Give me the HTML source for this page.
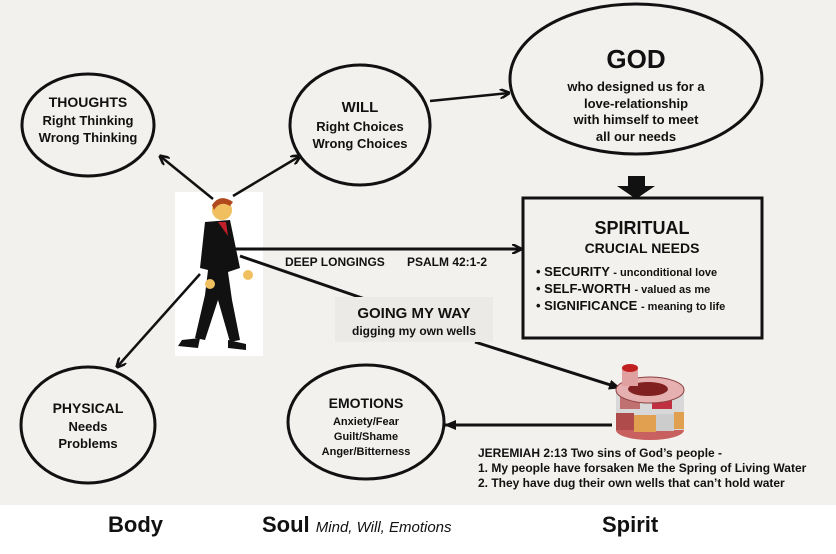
<!DOCTYPE html>
<html><head><style>
html,body{margin:0;padding:0;background:#fff}
svg{display:block}
text{font-family:"Liberation Sans",Arial,sans-serif;font-weight:bold;fill:#111}
</style></head><body>
<svg width="836" height="554" viewBox="0 0 836 554" xmlns="http://www.w3.org/2000/svg">
<defs>
<marker id="a" markerWidth="10" markerHeight="10" refX="9" refY="5" orient="auto" markerUnits="userSpaceOnUse">
<path d="M0,0 L10,5 L0,10" fill="none" stroke="#111" stroke-width="2.5"/>
</marker>
<marker id="b" markerWidth="12" markerHeight="10" refX="11" refY="5" orient="auto" markerUnits="userSpaceOnUse">
<path d="M0,0 L12,5 L0,10 z" fill="#111"/>
</marker>
</defs>
<rect x="0" y="0" width="836" height="505" fill="#f3f1ed"/>
<rect x="0" y="505" width="836" height="49" fill="#fff"/>

<ellipse cx="88" cy="125" rx="66" ry="51" fill="#f3f1ed" stroke="#111" stroke-width="3"/>
<text x="88" y="107" font-size="14" text-anchor="middle">THOUGHTS</text>
<text x="88" y="125" font-size="13" text-anchor="middle">Right Thinking</text>
<text x="88" y="142" font-size="13" text-anchor="middle">Wrong Thinking</text>

<ellipse cx="360" cy="125" rx="70" ry="60" fill="#f3f1ed" stroke="#111" stroke-width="3"/>
<text x="360" y="112" font-size="15" text-anchor="middle">WILL</text>
<text x="360" y="131" font-size="13" text-anchor="middle">Right Choices</text>
<text x="360" y="148" font-size="13" text-anchor="middle">Wrong Choices</text>

<ellipse cx="636" cy="79" rx="126" ry="75" fill="#f3f1ed" stroke="#111" stroke-width="3"/>
<text x="636" y="68" font-size="26" text-anchor="middle">GOD</text>
<text x="636" y="91" font-size="13" text-anchor="middle">who designed us for a</text>
<text x="636" y="108" font-size="13" text-anchor="middle">love-relationship</text>
<text x="636" y="124" font-size="13" text-anchor="middle">with himself to meet</text>
<text x="636" y="141" font-size="13" text-anchor="middle">all our needs</text>

<path d="M628,176 H645 V186 H655 L636,199 L617,186 H628 z" fill="#111"/>

<rect x="523" y="198" width="239" height="140" fill="#f3f1ed" stroke="#111" stroke-width="3"/>
<text x="642" y="234" font-size="18" text-anchor="middle">SPIRITUAL</text>
<text x="642" y="253" font-size="14" text-anchor="middle">CRUCIAL NEEDS</text>
<text x="536" y="276" font-size="13">• SECURITY <tspan font-size="11">- unconditional love</tspan></text>
<text x="536" y="293" font-size="13">• SELF-WORTH <tspan font-size="11">- valued as me</tspan></text>
<text x="536" y="310" font-size="13">• SIGNIFICANCE <tspan font-size="11">- meaning to life</tspan></text>

<ellipse cx="88" cy="425" rx="67" ry="58" fill="#f3f1ed" stroke="#111" stroke-width="3"/>
<text x="88" y="413" font-size="14" text-anchor="middle">PHYSICAL</text>
<text x="88" y="431" font-size="13" text-anchor="middle">Needs</text>
<text x="88" y="448" font-size="13" text-anchor="middle">Problems</text>

<ellipse cx="366" cy="422" rx="78" ry="57" fill="#f3f1ed" stroke="#111" stroke-width="3"/>
<text x="366" y="408" font-size="14" text-anchor="middle">EMOTIONS</text>
<text x="366" y="425" font-size="11" text-anchor="middle">Anxiety/Fear</text>
<text x="366" y="440" font-size="11" text-anchor="middle">Guilt/Shame</text>
<text x="366" y="455" font-size="11" text-anchor="middle">Anger/Bitterness</text>

<rect x="175" y="192" width="88" height="164" fill="#fff"/>
<circle cx="222" cy="210" r="10" fill="#f0c060"/>
<path d="M212,205 Q220,193 233,202 L230,206 Q220,200 214,210 z" fill="#b04a1e"/>
<path d="M205,222 L230,220 L240,268 L228,272 L232,300 L240,340 L230,342 L218,300 L205,340 L195,338 L205,295 L208,270 L200,268 z" fill="#111"/>
<path d="M218,222 L226,222 L228,236 z" fill="#c0202a"/>
<path d="M182,340 L200,338 L198,348 L178,346 z" fill="#111"/>
<path d="M228,340 L246,344 L246,350 L228,348 z" fill="#111"/>
<circle cx="248" cy="275" r="5" fill="#f0c060"/>
<circle cx="210" cy="284" r="5" fill="#f0c060"/>

<line x1="213" y1="199" x2="160" y2="156" stroke="#111" stroke-width="2.5" marker-end="url(#a)"/>
<line x1="233" y1="196" x2="300" y2="156" stroke="#111" stroke-width="2.5" marker-end="url(#a)"/>
<line x1="430" y1="101" x2="509" y2="93" stroke="#111" stroke-width="2.5" marker-end="url(#a)"/>
<line x1="222" y1="249" x2="521" y2="249" stroke="#111" stroke-width="3" marker-end="url(#a)"/>
<line x1="240" y1="256" x2="365" y2="299" stroke="#111" stroke-width="3"/>
<line x1="475" y1="342" x2="620" y2="388" stroke="#111" stroke-width="3" marker-end="url(#b)"/>
<line x1="612" y1="425" x2="445" y2="425" stroke="#111" stroke-width="3" marker-end="url(#b)"/>
<line x1="200" y1="274" x2="117" y2="367" stroke="#111" stroke-width="2.5" marker-end="url(#a)"/>

<text x="285" y="266" font-size="12">DEEP LONGINGS</text>
<text x="407" y="266" font-size="12">PSALM 42:1-2</text>

<rect x="335" y="297" width="158" height="45" fill="#eceae6"/>
<text x="414" y="318" font-size="15" text-anchor="middle">GOING MY WAY</text>
<text x="414" y="335" font-size="12" text-anchor="middle">digging my own wells</text>

<ellipse cx="650" cy="430" rx="34" ry="10" fill="#c86060"/>
<rect x="616" y="390" width="68" height="40" fill="#d8d8d8"/>
<rect x="616" y="413" width="18" height="17" fill="#b04b4b"/>
<rect x="634" y="415" width="22" height="17" fill="#e0a050"/>
<rect x="656" y="414" width="18" height="17" fill="#ccc"/>
<rect x="674" y="412" width="10" height="17" fill="#e0a050"/>
<rect x="620" y="395" width="20" height="14" fill="#c07070"/>
<rect x="652" y="396" width="20" height="13" fill="#c03040"/>
<ellipse cx="650" cy="390" rx="34" ry="13" fill="#e6b0b0" stroke="#8a4040" stroke-width="1"/>
<ellipse cx="648" cy="389" rx="20" ry="7" fill="#802020"/>
<rect x="622" y="368" width="16" height="18" fill="#e0a0a0"/>
<ellipse cx="630" cy="368" rx="8" ry="4" fill="#c02020"/>

<text x="478" y="457" font-size="12">JEREMIAH 2:13  Two sins of God’s people  -</text>
<text x="478" y="472" font-size="12">1. My people have forsaken Me the Spring of Living Water</text>
<text x="478" y="487" font-size="12">2. They have dug their own wells that can’t hold water</text>

<text x="108" y="532" font-size="22">Body</text>
<text x="262" y="532" font-size="22">Soul <tspan font-size="15" font-weight="normal" font-style="italic">Mind, Will, Emotions</tspan></text>
<text x="602" y="532" font-size="22">Spirit</text>
</svg>
</body></html>
